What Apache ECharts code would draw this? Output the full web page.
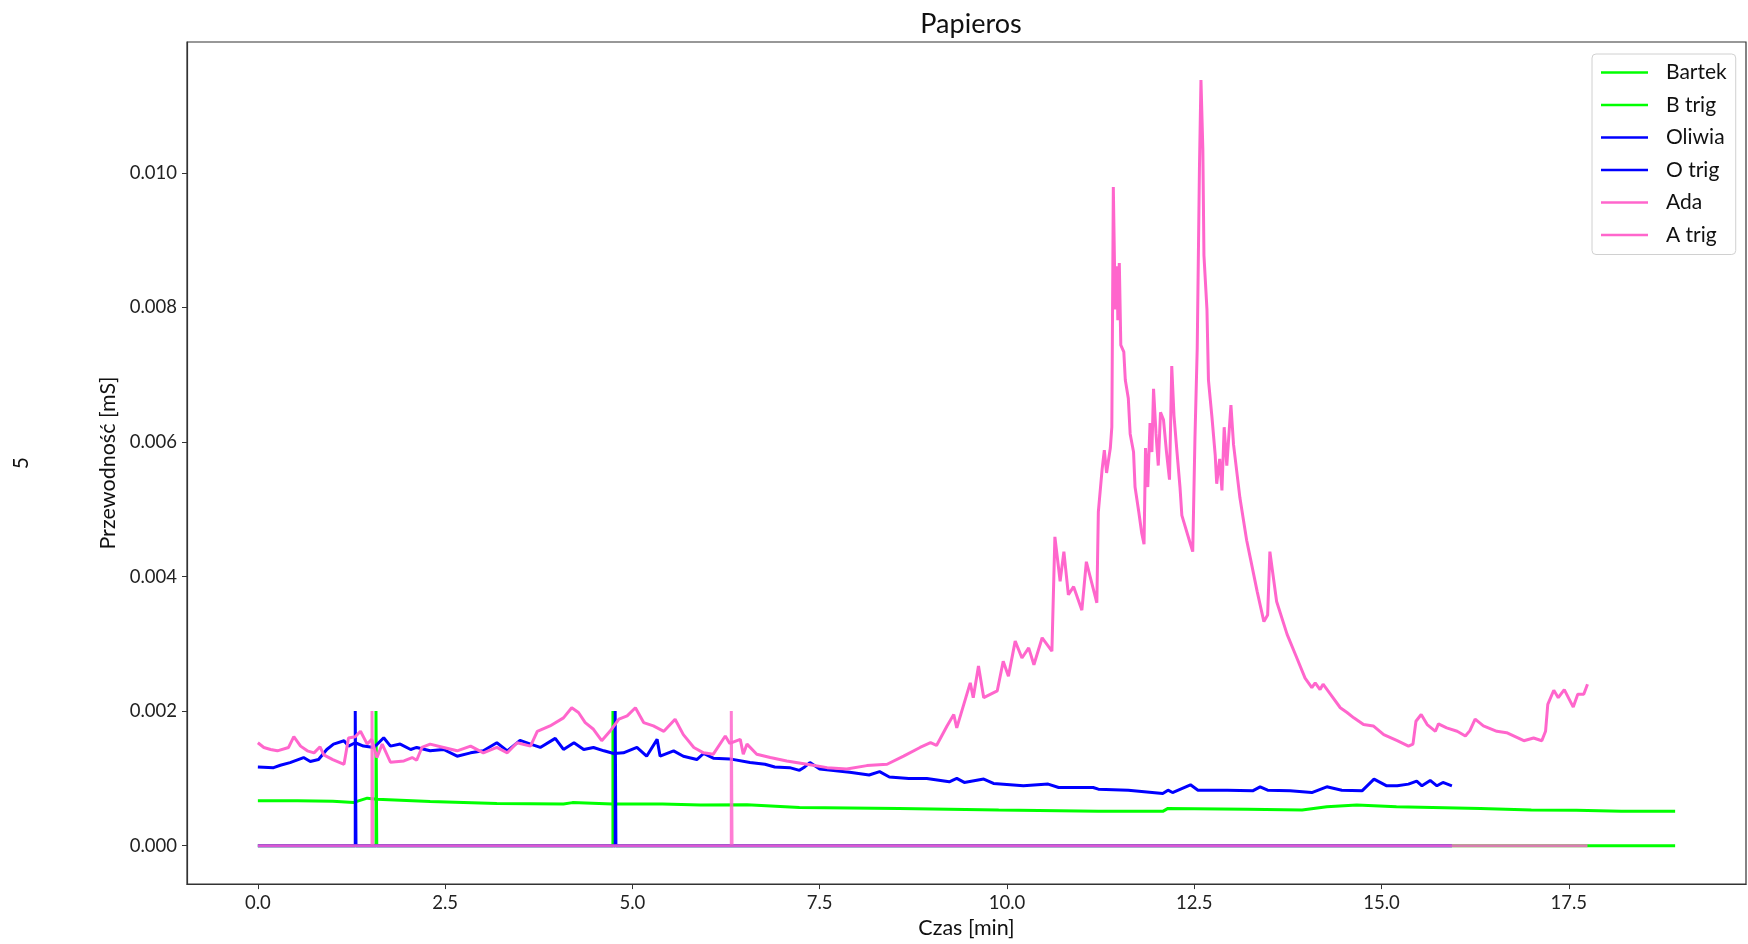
<!DOCTYPE html>
<html>
<head>
    <meta charset="utf-8">
    <title>Papieros</title>
    <script src="https://cdn.jsdelivr.net/npm/echarts@6/dist/echarts.min.js"></script>
    <style>
        html, body { margin: 0; padding: 0; background: #fff; }
        #main { width: 1748px; height: 944px; }
    </style>
</head>
<body>
    <div id="main"></div>
    <script type="text/javascript">
        // czas [min], przewodnosc [mS]
        var bartekTime = [0.00, 0.53, 1.00, 1.28, 1.46, 1.59, 2.30, 3.19, 4.08, 4.20, 4.73, 5.40, 5.91, 6.53, 7.23, 8.56, 9.89, 11.22, 12.08, 12.15, 13.21, 13.94, 14.27, 14.67, 15.20, 16.32, 17.00, 17.60, 18.20, 18.92];
        var bartekVal = [0.000667, 0.000667, 0.000660, 0.000643, 0.000706, 0.000690, 0.000657, 0.000628, 0.000620, 0.000640, 0.000620, 0.000620, 0.000603, 0.000610, 0.000569, 0.000554, 0.000529, 0.000510, 0.000510, 0.000554, 0.000540, 0.000529, 0.000579, 0.000603, 0.000579, 0.000554, 0.000530, 0.000525, 0.000510, 0.000510];

        var oliwiaTime = [0.00, 0.21, 0.30, 0.43, 0.61, 0.70, 0.81, 0.92, 1.01, 1.15, 1.21, 1.30, 1.41, 1.55, 1.68, 1.77, 1.90, 2.04, 2.12, 2.30, 2.48, 2.66, 2.84, 3.01, 3.19, 3.33, 3.50, 3.64, 3.77, 3.97, 4.08, 4.22, 4.35, 4.48, 4.62, 4.75, 4.88, 5.06, 5.19, 5.33, 5.37, 5.55, 5.68, 5.86, 5.95, 6.08, 6.30, 6.57, 6.77, 6.90, 7.10, 7.23, 7.30, 7.37, 7.50, 7.90, 8.16, 8.30, 8.43, 8.69, 8.93, 9.23, 9.33, 9.43, 9.69, 9.82, 10.22, 10.55, 10.69, 11.15, 11.22, 11.62, 12.08, 12.15, 12.21, 12.45, 12.55, 12.94, 13.28, 13.38, 13.48, 13.78, 14.07, 14.27, 14.47, 14.74, 14.90, 15.07, 15.21, 15.36, 15.47, 15.54, 15.65, 15.74, 15.82, 15.94];
        var oliwiaVal = [0.00117, 0.00116, 0.001195, 0.001235, 0.00131, 0.00125, 0.00128, 0.00143, 0.00151, 0.00156, 0.00148, 0.00153, 0.00148, 0.00146, 0.001605, 0.00148, 0.00151, 0.00143, 0.00146, 0.00141, 0.00143, 0.00133, 0.00138, 0.00141, 0.00153, 0.00141, 0.001565, 0.00151, 0.00146, 0.001595, 0.00143, 0.00153, 0.00143, 0.00146, 0.00141, 0.00137, 0.00138, 0.00146, 0.00133, 0.00158, 0.00133, 0.00141, 0.00133, 0.00128, 0.00137, 0.00130, 0.00129, 0.001235, 0.00121, 0.00117, 0.00116, 0.00112, 0.00117, 0.001235, 0.00114, 0.00109, 0.00105, 0.00110, 0.00102, 0.00100, 0.00100, 0.00095, 0.00100, 0.00094, 0.00099, 0.000925, 0.00089, 0.000915, 0.000865, 0.000865, 0.00084, 0.000825, 0.000776, 0.000825, 0.00079, 0.000905, 0.000825, 0.000825, 0.000815, 0.000875, 0.000825, 0.000815, 0.00079, 0.000875, 0.000825, 0.000815, 0.00099, 0.00089, 0.00089, 0.000915, 0.00096, 0.00089, 0.00097, 0.00089, 0.00094, 0.00089];

        var adaTime = [0.00, 0.08, 0.17, 0.26, 0.41, 0.48, 0.57, 0.66, 0.75, 0.83, 0.88, 1.00, 1.15, 1.21, 1.30, 1.37, 1.46, 1.52, 1.59, 1.66, 1.77, 1.95, 2.06, 2.12, 2.19, 2.30, 2.48, 2.66, 2.84, 3.01, 3.19, 3.33, 3.46, 3.64, 3.73, 3.90, 4.08, 4.19, 4.28, 4.37, 4.48, 4.59, 4.70, 4.82, 4.93, 5.04, 5.15, 5.28, 5.42, 5.57, 5.68, 5.82, 5.95, 6.08, 6.24, 6.30, 6.44, 6.48, 6.53, 6.66, 6.84, 7.06, 7.33, 7.60, 7.86, 8.13, 8.40, 8.62, 8.84, 8.98, 9.06, 9.20, 9.29, 9.33, 9.51, 9.55, 9.62, 9.69, 9.87, 9.95, 10.02, 10.11, 10.20, 10.29, 10.36, 10.47, 10.60, 10.64, 10.71, 10.76, 10.82, 10.89, 11.00, 11.06, 11.20, 11.22, 11.27, 11.30, 11.33, 11.38, 11.40, 11.42, 11.445, 11.47, 11.48, 11.50, 11.52, 11.56, 11.58, 11.62, 11.645, 11.69, 11.71, 11.76, 11.80, 11.83, 11.85, 11.88, 11.91, 11.935, 11.957, 11.99, 12.02, 12.05, 12.09, 12.13, 12.17, 12.20, 12.23, 12.27, 12.31, 12.335, 12.45, 12.48, 12.51, 12.54, 12.57, 12.59, 12.615, 12.63, 12.67, 12.69, 12.735, 12.78, 12.80, 12.84, 12.87, 12.90, 12.935, 12.99, 13.025, 13.11, 13.20, 13.25, 13.34, 13.43, 13.48, 13.51, 13.60, 13.74, 13.87, 13.98, 14.07, 14.115, 14.18, 14.22, 14.32, 14.45, 14.54, 14.63, 14.76, 14.89, 15.03, 15.21, 15.36, 15.42, 15.46, 15.53, 15.61, 15.72, 15.76, 15.87, 16.01, 16.12, 16.18, 16.25, 16.36, 16.54, 16.67, 16.90, 17.03, 17.14, 17.19, 17.22, 17.30, 17.36, 17.44, 17.56, 17.62, 17.70, 17.75];
        var adaVal = [0.00153, 0.00146, 0.00143, 0.00141, 0.00146, 0.00162, 0.00148, 0.00141, 0.00138, 0.00147, 0.00135, 0.00128, 0.00121, 0.00160, 0.00162, 0.00170, 0.00151, 0.00158, 0.00131, 0.00151, 0.00124, 0.00126, 0.00131, 0.00127, 0.00146, 0.00151, 0.00146, 0.00141, 0.00148, 0.00138, 0.00146, 0.00138, 0.00153, 0.00148, 0.00170, 0.00178, 0.00190, 0.00205, 0.00198, 0.00183, 0.00173, 0.00156, 0.00170, 0.00188, 0.00193, 0.00205, 0.00183, 0.00178, 0.00170, 0.00188, 0.00165, 0.00146, 0.00138, 0.00136, 0.00163, 0.00152, 0.00158, 0.00136, 0.00151, 0.00136, 0.00131, 0.00126, 0.00121, 0.00116, 0.00114, 0.00119, 0.00121, 0.00133, 0.00146, 0.00153, 0.00149, 0.00178, 0.00195, 0.00175, 0.00242, 0.00220, 0.00267, 0.00220, 0.00230, 0.00274, 0.00252, 0.00304, 0.00279, 0.00294, 0.00269, 0.00309, 0.00289, 0.00459, 0.00393, 0.00437, 0.00373, 0.00385, 0.00350, 0.00422, 0.00361, 0.00496, 0.00559, 0.00588, 0.00554, 0.00591, 0.00622, 0.00979, 0.00797, 0.00861, 0.00781, 0.00866, 0.00744, 0.00734, 0.00692, 0.00665, 0.00612, 0.00585, 0.00533, 0.00496, 0.00464, 0.00448, 0.00591, 0.00533, 0.00628, 0.00585, 0.00679, 0.00612, 0.00565, 0.00644, 0.00633, 0.00585, 0.00544, 0.00713, 0.00639, 0.00585, 0.00533, 0.00491, 0.00448, 0.00437, 0.00607, 0.00739, 0.01009, 0.01138, 0.01035, 0.00877, 0.00797, 0.00692, 0.00639, 0.00581, 0.00538, 0.00575, 0.00528, 0.00622, 0.00565, 0.00655, 0.00596, 0.00517, 0.00454, 0.00427, 0.00378, 0.00333, 0.00343, 0.00437, 0.00363, 0.00314, 0.00279, 0.00249, 0.00235, 0.00242, 0.00232, 0.00240, 0.00225, 0.00205, 0.00198, 0.00190, 0.00180, 0.00178, 0.00165, 0.00156, 0.00148, 0.00151, 0.00185, 0.00195, 0.00180, 0.00170, 0.00181, 0.00175, 0.00170, 0.00163, 0.00171, 0.00188, 0.00178, 0.00170, 0.00168, 0.00156, 0.00160, 0.00156, 0.00170, 0.00210, 0.00231, 0.00220, 0.00232, 0.00206, 0.00225, 0.00225, 0.00240];

        // znaczniki (trig): [czas, wartosc]
        var bTrig = [[0, 0], [1.577, 0], [1.577, 0.002], [1.587, 0.002], [1.587, 0], [4.74, 0], [4.74, 0.002], [4.75, 0.002], [4.75, 0], [18.92, 0]];
        var oTrig = [[0, 0], [1.30, 0], [1.30, 0.002], [1.31, 0.002], [1.31, 0], [4.77, 0], [4.77, 0.002], [4.78, 0.002], [4.78, 0], [15.94, 0]];
        var aTrig = [[0, 0], [1.524, 0], [1.524, 0.002], [1.534, 0.002], [1.534, 0], [6.32, 0], [6.32, 0.002], [6.33, 0.002], [6.33, 0], [17.75, 0]];

        var xTicks = [0, 2.5, 5, 7.5, 10, 12.5, 15, 17.5];
        var yTicks = [0, 0.002, 0.004, 0.006, 0.008, 0.010];

        function pairs(t, v) {
            var out = [];
            for (var i = 0; i < t.length; i++) {
                out.push([t[i], v[i]]);
            }
            return out;
        }

        var green = '#00ff00';
        var blue = '#0000ff';
        var pink = '#ff66cc';
        var font = 'Lato';

        function lineSeries(name, data, color, opacity) {
            return {
                name: name,
                type: 'line',
                data: data,
                symbol: 'none',
                showSymbol: false,
                animation: false,
                color: color,
                itemStyle: { color: color },
                lineStyle: { color: color, width: 3, opacity: opacity == null ? 1 : opacity }
            };
        }

        var chart = echarts.init(document.getElementById('main'));
        chart.setOption({
            animation: false,
            textStyle: { fontFamily: font },
            title: {
                text: 'Papieros',
                left: 966,
                textAlign: 'center',
                top: 6,
                textStyle: { fontFamily: font, fontSize: 27, fontWeight: 'normal', color: '#111' }
            },
            grid: {
                left: 187, right: 2, top: 42, bottom: 57,
                show: true,
                borderColor: '#333',
                borderWidth: 1.2,
                backgroundColor: 'transparent'
            },
            legend: {
                orient: 'vertical',
                left: 1592,
                top: 54,
                padding: [8, 9, 9, 9],
                icon: 'rect',
                itemWidth: 47,
                itemHeight: 2.6,
                itemGap: 11.5,
                backgroundColor: 'rgba(255,255,255,0.85)',
                borderColor: '#d0d0d0',
                borderWidth: 1,
                borderRadius: 4,
                textStyle: { fontFamily: font, fontSize: 21, color: '#111', padding: [0, 0, 0, 13] },
                data: ['Bartek', 'B trig', 'Oliwia', 'O trig', 'Ada', 'A trig']
            },
            xAxis: {
                type: 'value',
                min: -0.946,
                max: 19.866,
                name: 'Czas [min]',
                nameLocation: 'middle',
                nameGap: 28,
                nameTextStyle: { fontFamily: font, fontSize: 21.5, color: '#111' },
                axisLine: { show: true, onZero: false, lineStyle: { color: '#333', width: 1.2 } },
                axisTick: { show: true, length: 5, customValues: xTicks, lineStyle: { color: '#333' } },
                axisLabel: {
                    customValues: xTicks,
                    margin: 9,
                    fontFamily: font,
                    fontSize: 18.5,
                    color: '#222',
                    formatter: function (v) { return v.toFixed(1); }
                },
                splitLine: { show: false }
            },
            yAxis: [{
                type: 'value',
                min: -0.000571,
                max: 0.011945,
                name: 'Przewodność [mS]',
                nameLocation: 'middle',
                nameGap: 56,
                nameTextStyle: { fontFamily: font, fontSize: 21.5, color: '#111' },
                axisLine: { show: true, onZero: false, lineStyle: { color: '#333', width: 1.2 } },
                axisTick: { show: true, length: 5, customValues: yTicks, lineStyle: { color: '#333' } },
                axisLabel: {
                    customValues: yTicks,
                    margin: 10,
                    fontFamily: font,
                    fontSize: 18.5,
                    color: '#222',
                    formatter: function (v) { return v.toFixed(3); }
                },
                splitLine: { show: false }
            }, {
                // drugi, pusty opis osi po lewej stronie
                type: 'value',
                position: 'left',
                min: 0,
                max: 1,
                name: '5',
                nameLocation: 'middle',
                nameGap: 155,
                nameTextStyle: { fontFamily: font, fontSize: 21, color: '#111' },
                axisLine: { show: false },
                axisTick: { show: false },
                axisLabel: { show: false },
                splitLine: { show: false }
            }],
            series: [
                lineSeries('Bartek', pairs(bartekTime, bartekVal), green),
                lineSeries('B trig', bTrig, green),
                lineSeries('Oliwia', pairs(oliwiaTime, oliwiaVal), blue),
                lineSeries('O trig', oTrig, blue),
                lineSeries('Ada', pairs(adaTime, adaVal), pink),
                lineSeries('A trig', aTrig, pink, 0.85)
            ]
        });
    </script>
</body>
</html>
